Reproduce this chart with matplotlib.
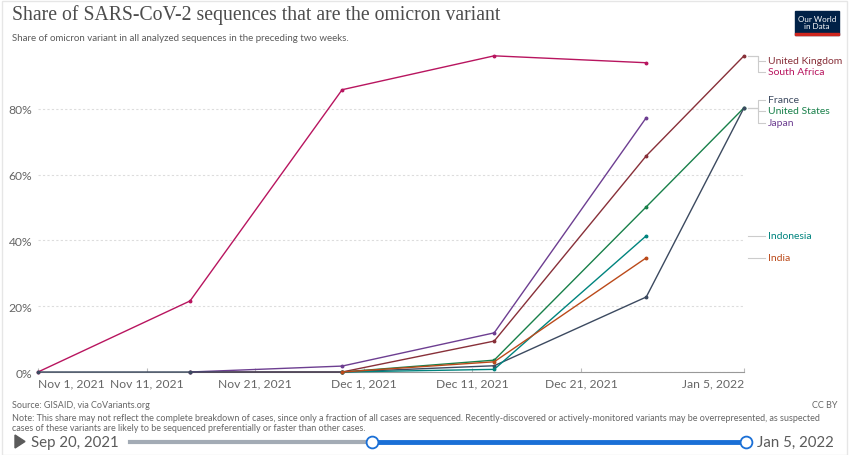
import matplotlib.pyplot as plt
import matplotlib.dates as mdates
import matplotlib.transforms as mtransforms
from matplotlib.patches import Rectangle, Polygon
from matplotlib.lines import Line2D
import numpy as np

plt.rcParams['font.family'] = ['Lato', 'DejaVu Sans']

# dates of the biweekly observations
dates = np.array(['2021-11-01', '2021-11-15', '2021-11-29', '2021-12-13',
                  '2021-12-27', '2022-01-05'], dtype='datetime64[D]')

countries = ['South Africa', 'United Kingdom', 'Japan', 'United States',
             'France', 'Indonesia', 'India']
# share of omicron (%), None = no data
shares = {
    'South Africa':   [0.0, 21.6, 85.8, 96.1, 94.0, None],
    'United Kingdom': [None, 0.0, 0.0, 9.4, 65.7, 96.1],
    'Japan':          [None, 0.0, 1.8, 11.9, 77.3, None],
    'United States':  [None, None, 0.0, 3.6, 50.2, 80.3],
    'France':         [0.0, 0.0, 0.0, 1.9, 22.8, 80.3],
    'Indonesia':      [None, None, 0.0, 0.8, 41.4, None],
    'India':          [None, None, 0.0, 3.1, 34.7, None],
}
colors = {
    'South Africa': '#b8155f', 'United Kingdom': '#883039', 'Japan': '#6d3e91',
    'United States': '#18804a', 'France': '#3c4a60', 'Indonesia': '#00847e',
    'India': '#bb4a1a',
}
# label order / vertical position (as share) on the right
labels = ['United Kingdom', 'South Africa', 'France', 'United States', 'Japan',
          'Indonesia', 'India']
label_y = [94.6, 91.2, 82.7, 79.4, 75.7, 41.4, 34.7]
anchor_y = [96.1, 96.1, 80.3, 80.3, 80.3, None, None]

yticks = [0, 20, 40, 60, 80]
xtick_dates = ['2021-11-01', '2021-11-11', '2021-11-21', '2021-12-01',
               '2021-12-11', '2021-12-21', '2022-01-05']
xtick_labels = ['Nov 1, 2021', 'Nov 11, 2021', 'Nov 21, 2021', 'Dec 1, 2021',
                'Dec 11, 2021', 'Dec 21, 2021', 'Jan 5, 2022']

fig = plt.figure(figsize=(8.5, 4.56), dpi=100)
ax = fig.add_axes([38 / 850, 1 - 373 / 456, 706 / 850, 329 / 456])

x_num = mdates.date2num(dates.astype('datetime64[s]').astype(object))
for c in countries:
    v = shares[c]
    xs = [x for x, s in zip(x_num, v) if s is not None]
    ys = [s for s in v if s is not None]
    ax.plot(xs, ys, color=colors[c], lw=1.0, marker='o', ms=1.8, zorder=3,
            clip_on=False)

ax.set_xlim(x_num[0], x_num[-1])
ax.set_ylim(0, 100)
ax.set_yticks(yticks)
ax.set_yticklabels([f'{t}%' for t in yticks])
xt = mdates.date2num(np.array(xtick_dates, dtype='datetime64[s]').astype(object))
ax.set_xticks(xt)
ax.set_xticklabels(xtick_labels)
tl = ax.get_xticklabels()
tl[0].set_ha('left')
tl[-1].set_ha('right')
ax.tick_params(axis='y', length=0, pad=4, labelsize=8.7, labelcolor='#666666')
ax.tick_params(axis='x', direction='in', length=3, color='#bbbbbb', pad=4,
               labelsize=8.7, labelcolor='#666666')
ax.grid(axis='y', ls=(0, (2, 2)), color='#dddddd', lw=0.8)
ax.set_axisbelow(True)
for s in ['top', 'right', 'left']:
    ax.spines[s].set_visible(False)
ax.spines['bottom'].set_color('#999999')

# right-hand labels with connectors
trans = mtransforms.blended_transform_factory(ax.transAxes, ax.transData)
for name, ly, ay in zip(labels, label_y, anchor_y):
    ax.text(1.034, ly, name, transform=trans, color=colors[name], fontsize=7.5,
            va='center', ha='left')
    if ay is None:
        xs_c, ys_c = [1.006, 1.03], [ly, ly]
    else:
        xs_c, ys_c = [1.006, 1.02, 1.02, 1.03], [ay, ay, ly, ly]
    ax.add_line(Line2D(xs_c, ys_c, transform=trans, color='#cccccc', lw=0.8,
                       clip_on=False))

# titles
fig.text(12 / 850, 1 - 20 / 456, 'Share of SARS-CoV-2 sequences that are the omicron variant',
         family=['Liberation Serif', 'DejaVu Serif'], fontsize=14.2, color='#4d4d4d',
         va='baseline')
fig.text(12 / 850, 1 - 41 / 456,
         'Share of omicron variant in all analyzed sequences in the preceding two weeks.',
         fontsize=7, color='#5b5b5b', va='baseline')

# logo
fig.add_artist(Rectangle((795 / 850, 1 - 36 / 456), 44 / 850, 24 / 456,
                         transform=fig.transFigure, color='#002147'))
fig.add_artist(Rectangle((795 / 850, 1 - 36 / 456), 44 / 850, 2.5 / 456,
                         transform=fig.transFigure, color='#ce261e'))
fig.text(817 / 850, 1 - 23 / 456, 'Our World\nin Data', color='white', fontsize=5.8,
         ha='center', va='center', linespacing=1.05)

# footer
fig.text(12 / 850, 1 - 408 / 456, 'Source: GISAID, via CoVariants.org', fontsize=6.5,
         color='#666666', va='baseline')
fig.text(12 / 850, 1 - 431 / 456,
         'Note: This share may not reflect the complete breakdown of cases, since only a fraction of all cases are sequenced. '
         'Recently-discovered or actively-monitored variants may be overrepresented, as suspected\n'
         'cases of these variants are likely to be sequenced preferentially or faster than other cases.',
         fontsize=6.5, color='#666666', va='baseline', linespacing=1.2)
fig.text(837 / 850, 1 - 408 / 456, 'CC BY', fontsize=6.5, color='#666666',
         ha='right', va='baseline')

# timeline slider
fig.add_artist(Polygon([[15 / 850, 1 - 436 / 456], [15 / 850, 1 - 449 / 456],
                        [25 / 850, 1 - 442.5 / 456]], transform=fig.transFigure,
                       color='#5b5b5b'))
fig.text(31 / 850, 1 - 443 / 456, 'Sep 20, 2021', fontsize=10.8, color='#5b5b5b',
         va='center')
fig.add_artist(Line2D([130 / 850, 372 / 850], [1 - 443 / 456] * 2,
                      transform=fig.transFigure, color='#a3abb5', lw=3))
fig.add_artist(Line2D([372 / 850, 746 / 850], [1 - 443 / 456] * 2,
                      transform=fig.transFigure, color='#1a6fd6', lw=3.5))
for cx in [372, 746]:
    fig.add_artist(Line2D([cx / 850], [1 - 443 / 456], transform=fig.transFigure,
                          marker='o', ms=8.5, mfc='white', mec='#1a6fd6', mew=1.3))
fig.text(757 / 850, 1 - 443 / 456, 'Jan 5, 2022', fontsize=10.8, color='#5b5b5b',
         va='center')

# outer frame
fig.add_artist(Rectangle((2 / 850, 0), 845 / 850, 1 - 2 / 456, transform=fig.transFigure,
                         fill=False, ec='#e6e6e6', lw=1))

fig.savefig('out.png', dpi=100)
